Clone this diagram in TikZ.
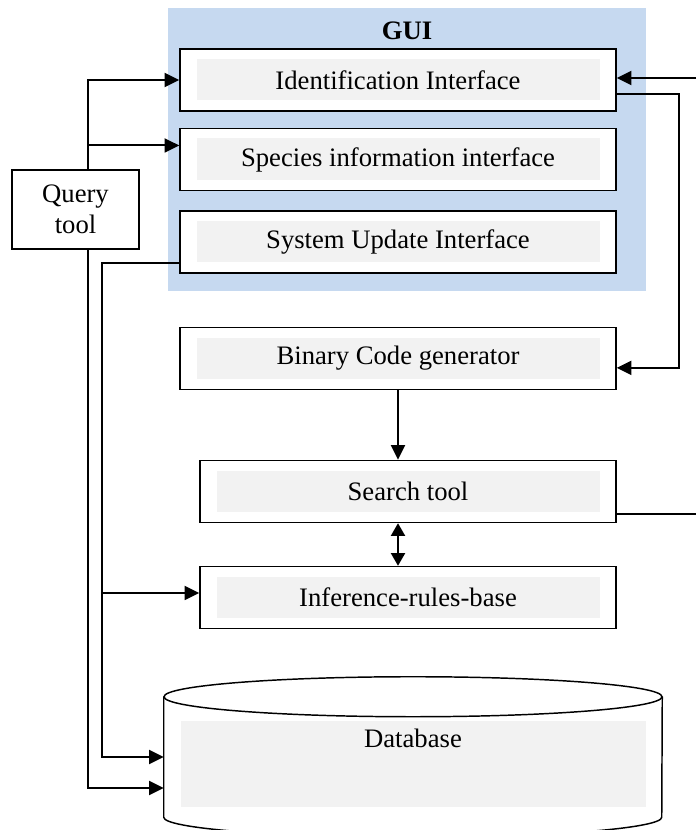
\documentclass[tikz,border=0pt]{standalone}
\usepackage{fontspec}
\setmainfont{Liberation Serif}
\usetikzlibrary{arrows.meta,positioning}
\definecolor{GUIBlue}{RGB}{198,217,240}
\definecolor{BoxGray}{RGB}{242,242,242}

\begin{document}
\begin{tikzpicture}[
  x=0.75pt, y=-0.75pt,
  font=\fontsize{20}{23}\selectfont,
  box/.style={draw, line width=1.1pt, fill=white, minimum width=327pt, minimum height=46.5pt, align=center,
    path picture={\fill[BoxGray] ([shift={(12.75pt,-7.5pt)}]path picture bounding box.north west) rectangle ([shift={(-12pt,8pt)}]path picture bounding box.south east);}},
  smallbox/.style={box, minimum width=312pt},
  tool/.style={draw, line width=1.1pt, fill=white, minimum width=95.25pt, minimum height=59.25pt, align=center},
  line/.style={-{Triangle[length=11pt,width=10.5pt]}, line width=1.5pt},
  plain/.style={line width=1.5pt},
  twoway/.style={{Triangle[length=9.5pt,width=10.5pt]}-{Triangle[length=9.5pt,width=10.5pt]}, line width=1.5pt}
]
\useasboundingbox (0,0) rectangle (696,830);
\node[fill=GUIBlue, minimum width=358.5pt, minimum height=212.25pt] (gui) at (407,149.5) {};
\node[anchor=north, inner sep=0pt, font=\fontsize{20}{23}\selectfont\bfseries] (guilbl) at ([yshift=-10.5pt]gui.north) {GUI};
\node[box] (ident) at (398,80) {Identification Interface};
\node[box, below=12pt of ident] (species) {Species information interface};
\node[box, below=14.25pt of species] (upd) {System Update Interface};
\node[tool] (query) at (75.5,209.5) {Query\\tool};
\node[box] (binary) at (398,358.5) {Binary Code generator};
\node[smallbox] (srch) at (408,491.5) {Search tool};
\node[smallbox] (infer) at (408,597.5) {Inference-rules-base};
\node[minimum width=373.5pt, minimum height=90pt, inner sep=0pt, text height=37.5pt, text depth=52.5pt,
  path picture={\fill[BoxGray] ([shift={(12.75pt,-18pt)}]path picture bounding box.north west) rectangle ([shift={(-12pt,7.5pt)}]path picture bounding box.south east);}] (db) at (413,757) {Database};
\draw[line width=1.1pt] (db.north west) -- (db.south west) arc[start angle=180, end angle=360, x radius=186.75pt, y radius=15pt] -- (db.north east);
\draw[line width=1.1pt] (db.north) ellipse [x radius=186.75pt, y radius=15pt];

\coordinate (qx) at (88,0);
\coordinate (ux) at (102,0);
\coordinate (rx) at (679,0);
\coordinate (rin) at (696,78);
\coordinate (rout) at (696,514);
\coordinate (binin) at ([yshift=-7pt]binary.east);
\coordinate (infin) at ([yshift=3.4pt]infer.west);

\draw[line] (query.north -| qx) |- (ident.west);
\draw[line] (query.north -| qx) |- ([yshift=10.5pt]species.west);
\draw[line] (query.south -| qx) |- ([yshift=-23.25pt]db.west);
\draw[line] ([yshift=-15.75pt]upd.west) -| (ux |- db.west) -- (db.west);
\draw[line] (ux |- infin) -- (infin);
\draw[line] (rin) -- (ident.east |- rin);
\draw[line] ([yshift=-10.5pt]ident.east) -| (rx |- binin) -- (binin);
\draw[plain] (srch.east |- rout) -- (rout);
\draw[line] (binary.south) -- (binary.south |- srch.north);
\draw[twoway] (srch.south -| binary.south) -- (infer.north -| binary.south);
\end{tikzpicture}
\end{document}
